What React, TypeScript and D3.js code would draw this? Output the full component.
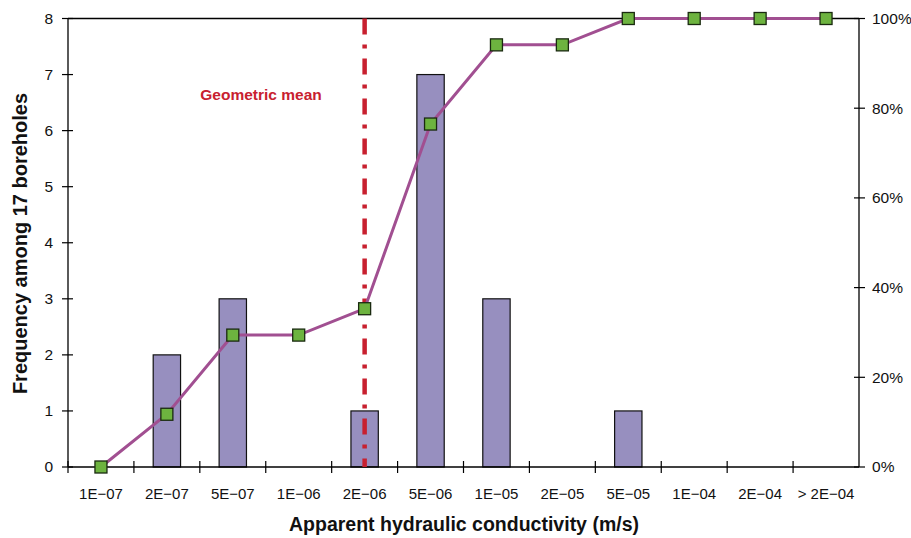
import React from "react";
import * as d3 from "d3";

const categories = ["1E\u221207", "2E\u221207", "5E\u221207", "1E\u221206", "2E\u221206", "5E\u221206", "1E\u221205", "2E\u221205", "5E\u221205", "1E\u221204", "2E\u221204", "> 2E\u221204"];
const frequencies = [0, 2, 3, 0, 1, 7, 3, 0, 1, 0, 0, 0];
const cumulativePct = [0, 11.76, 29.41, 29.41, 35.29, 76.47, 94.12, 94.12, 100, 100, 100, 100];
const leftTicks = [0, 1, 2, 3, 4, 5, 6, 7, 8];
const rightTicks = [0, 20, 40, 60, 80, 100];
const geometricMeanCategory = "2E\u221206";

const W = 911, H = 538;
const left = 68, right = 859, top = 18.5, bottom = 467;
const FONT = "'Liberation Sans', Arial, Helvetica, sans-serif";

export default function App() {
  const x = d3.scaleBand<string>().domain(categories).range([left, right]);
  const y = d3.scaleLinear().domain([0, 8]).range([bottom, top]);
  const yp = d3.scaleLinear().domain([0, 100]).range([bottom, top]);
  const bw = x.bandwidth() * 0.415;
  const cx = (c: string) => (x(c) as number) + x.bandwidth() / 2;
  const line = d3.line<number>().x((_, i) => cx(categories[i])).y((d) => yp(d));
  const meanX = cx(geometricMeanCategory);
  const ms = 12;

  return (
    <svg width={W} height={H} style={{ display: "block", position: "absolute", left: 0, top: 0 }} fontFamily={FONT}>
      <rect width={W} height={H} fill="#fff" />
      {/* bars */}
      {frequencies.map((f, i) =>
        f > 0 ? (
          <rect key={i} x={cx(categories[i]) - bw / 2} y={y(f)} width={bw} height={y(0) - y(f)} fill="#978fbf" stroke="#111" strokeWidth={1.2} />
        ) : null
      )}
      {/* frame */}
      <line x1={left} x2={right} y1={top} y2={top} stroke="#000" strokeWidth={1.3} />
      <line x1={left} x2={left} y1={top} y2={bottom} stroke="#000" strokeWidth={1.3} />
      <line x1={right} x2={right} y1={top} y2={bottom} stroke="#000" strokeWidth={1.3} />
      <line x1={left} x2={right} y1={bottom} y2={bottom} stroke="#000" strokeWidth={1.3} />
      {/* left ticks */}
      {leftTicks.map((t) => (
        <g key={t}>
          <line x1={left - 6} x2={left + 5} y1={y(t)} y2={y(t)} stroke="#000" strokeWidth={1.2} />
          <text x={53} y={y(t)} dy="0.35em" textAnchor="end" fontSize={15.5} fill="#111">{t}</text>
        </g>
      ))}
      {/* right ticks */}
      {rightTicks.map((t) => (
        <g key={t}>
          <line x1={right - 5} x2={right + 6} y1={yp(t)} y2={yp(t)} stroke="#000" strokeWidth={1.2} />
          <text x={872} y={yp(t)} dy="0.35em" textAnchor="start" fontSize={15.5} fill="#111">{t}%</text>
        </g>
      ))}
      {/* bottom ticks */}
      {categories.map((c, i) => (
        <line key={i} x1={x(c) as number} x2={x(c) as number} y1={bottom - 6} y2={bottom + 6} stroke="#000" strokeWidth={1.2} />
      ))}
      {categories.map((c, i) => (
        <text key={i} x={cx(c)} y={499} textAnchor="middle" fontSize={15} fill="#111">{c}</text>
      ))}
      {/* geometric mean */}
      <line x1={meanX} x2={meanX} y1={top} y2={bottom} stroke="#c8202f" strokeWidth={4.5} strokeDasharray="16 10 4 10" />
      <text x={261} y={100} textAnchor="middle" fontSize={15.5} fontWeight="bold" fill="#c8202f">Geometric mean</text>
      {/* cumulative line */}
      <path d={line(cumulativePct) || ""} fill="none" stroke="#a14f91" strokeWidth={3} />
      {cumulativePct.map((p, i) => (
        <rect key={i} x={cx(categories[i]) - ms / 2} y={yp(p) - ms / 2} width={ms} height={ms} fill="#6db33f" stroke="#1a2a10" strokeWidth={1.3} />
      ))}
      {/* axis titles */}
      <text x={464} y={531} textAnchor="middle" fontSize={19.5} fontWeight="bold" fill="#111">Apparent hydraulic conductivity (m/s)</text>
      <text transform={`translate(27, 243.5) rotate(-90)`} textAnchor="middle" fontSize={20} fontWeight="bold" fill="#111">Frequency among 17 boreholes</text>
    </svg>
  );
}
